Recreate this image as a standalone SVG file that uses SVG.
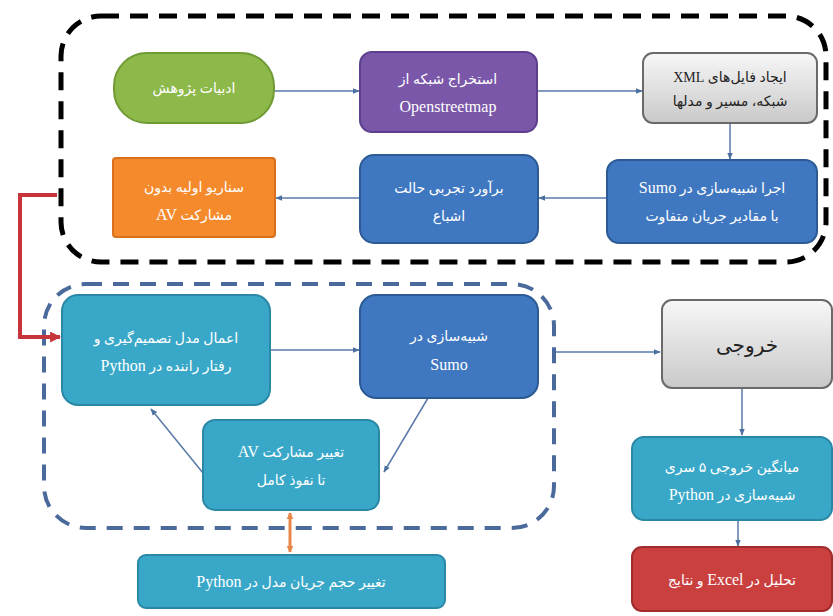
<svg xmlns="http://www.w3.org/2000/svg" width="833" height="616" viewBox="0 0 833 616">
<defs>
<linearGradient id="gray" x1="0" y1="0" x2="0" y2="1">
<stop offset="0" stop-color="#f7f7f7"/>
<stop offset="1" stop-color="#c9c9c9"/>
</linearGradient>
<marker id="ah" viewBox="0 0 10 10" refX="9" refY="5" markerWidth="7" markerHeight="7" orient="auto" markerUnits="userSpaceOnUse">
<path d="M0,1 L10,5 L0,9 Z" fill="#4a6fa0"/>
</marker>
<marker id="ahr" viewBox="0 0 10 10" refX="9" refY="5" markerWidth="11" markerHeight="11" orient="auto" markerUnits="userSpaceOnUse">
<path d="M0,0 L10,5 L0,10 Z" fill="#c8343c"/>
</marker>
<marker id="aho" viewBox="0 0 10 10" refX="9" refY="5" markerWidth="7" markerHeight="7" orient="auto-start-reverse" markerUnits="userSpaceOnUse">
<path d="M0,0 L10,5 L0,10 Z" fill="#e8874a"/>
</marker>
</defs>
<style>
.t{font-family:"Liberation Serif","DejaVu Sans",serif;font-size:14px;fill:#ffffff;text-anchor:middle;direction:rtl}
.l{font-size:16px}
.d{fill:#222222}
.big{font-size:20px}
.green{fill:#8db84a;stroke:#6f9a35;stroke-width:2}
.purple{fill:#7a57a8;stroke:#5d3f8e;stroke-width:2}
.grayb{fill:url(#gray);stroke:#6a6a6a;stroke-width:2}
.blue{fill:#3f78c0;stroke:#2c5a95;stroke-width:2}
.orange{fill:#f58a2c;stroke:#d8701c;stroke-width:2}
.teal{fill:#39a8c8;stroke:#2a88a6;stroke-width:2}
.red{fill:#c9403f;stroke:#a02c2c;stroke-width:2}
.c{fill:none;stroke:#5a7aa8;stroke-width:1.5;marker-end:url(#ah)}
</style>
<g id="frames">
<rect x="61" y="16" width="765" height="246" rx="40" fill="none" stroke="#000" stroke-width="5" stroke-dasharray="18 11"/>
<rect x="44" y="284" width="510" height="244" rx="42" fill="none" stroke="#4a6a9c" stroke-width="4" stroke-dasharray="16 11"/>
</g>
<g id="connectors">
<path class="c" d="M275,91 H359"/>
<path class="c" d="M537,91 H642"/>
<path class="c" d="M730,122 V159"/>
<path class="c" d="M607,198 H539"/>
<path class="c" d="M360,198 H276"/>
<path d="M57,195 H20 V337 H60" fill="none" stroke="#c8343c" stroke-width="4" marker-end="url(#ahr)"/>
<path class="c" d="M270,350 H359"/>
<path class="c" d="M428,398 L384,472"/>
<path class="c" d="M203,473 L151,409"/>
<path d="M290,513 V552" fill="none" stroke="#e8874a" stroke-width="3" marker-start="url(#aho)" marker-end="url(#aho)"/>
<path class="c" d="M556,352 H660"/>
<path class="c" d="M742,389 V435"/>
<path class="c" d="M738,520 V546"/>
</g>
<g id="n1">
<rect class="green" x="114" y="53" width="160" height="70" rx="33"/>
<text class="t" x="194" y="93">ادبیات پژوهش</text>
</g>
<g id="n2">
<rect class="purple" x="360" y="52" width="177" height="80" rx="12"/>
<text class="t" x="448" y="84">استخراج شبکه از</text>
<text class="t l" x="448" y="112">Openstreetmap</text>
</g>
<g id="n3">
<rect class="grayb" x="643" y="53" width="174" height="70" rx="10"/>
<text class="t d" x="730" y="82">ایجاد فایل‌های XML</text>
<text class="t d" x="730" y="106">شبکه، مسیر و مدلها</text>
</g>
<g id="n4">
<rect class="blue" x="607" y="160" width="210" height="83" rx="12"/>
<text class="t" x="712" y="193">اجرا شبیه‌سازی در <tspan class="l">Sumo</tspan></text>
<text class="t" x="712" y="221">با مقادیر جریان متفاوت</text>
</g>
<g id="n5">
<rect class="blue" x="360" y="155" width="178" height="88" rx="14"/>
<text class="t" x="449" y="193">برآورد تجربی حالت</text>
<text class="t" x="449" y="221">اشباع</text>
</g>
<g id="n6">
<rect class="orange" x="113" y="158" width="162" height="79" rx="3"/>
<text class="t" x="194" y="192">سناریو اولیه بدون</text>
<text class="t" x="194" y="220">مشارکت <tspan class="l">AV</tspan></text>
</g>
<g id="n7">
<rect class="teal" x="62" y="295" width="208" height="110" rx="16"/>
<text class="t" x="166" y="343">اعمال مدل تصمیم‌گیری و</text>
<text class="t" x="166" y="371">رفتار راننده در <tspan class="l">Python</tspan></text>
</g>
<g id="n8">
<rect class="blue" x="360" y="295" width="178" height="103" rx="16"/>
<text class="t" x="449" y="341">شبیه‌سازی در</text>
<text class="t l" x="449" y="370">Sumo</text>
</g>
<g id="n9">
<rect class="teal" x="203" y="420" width="176" height="90" rx="12"/>
<text class="t" x="291" y="457">تغییر مشارکت <tspan class="l">AV</tspan></text>
<text class="t" x="291" y="485">تا نفوذ کامل</text>
</g>
<g id="n10">
<rect class="teal" x="138" y="555" width="307" height="53" rx="8"/>
<text class="t" x="291" y="587">تغییر حجم جریان مدل در <tspan class="l">Python</tspan></text>
</g>
<g id="n11">
<rect class="grayb" x="662" y="300" width="170" height="88" rx="10"/>
<text class="t d big" x="747" y="352">خروجی</text>
</g>
<g id="n12">
<rect class="teal" x="632" y="437" width="200" height="83" rx="12"/>
<text class="t" x="732" y="472">میانگین خروجی ۵ سری</text>
<text class="t" x="732" y="500">شبیه‌سازی در <tspan class="l">Python</tspan></text>
</g>
<g id="n13">
<rect class="red" x="632" y="547" width="200" height="64" rx="10"/>
<text class="t" x="732" y="585">تحلیل در <tspan class="l">Excel</tspan> و نتایج</text>
</g>
</svg>
